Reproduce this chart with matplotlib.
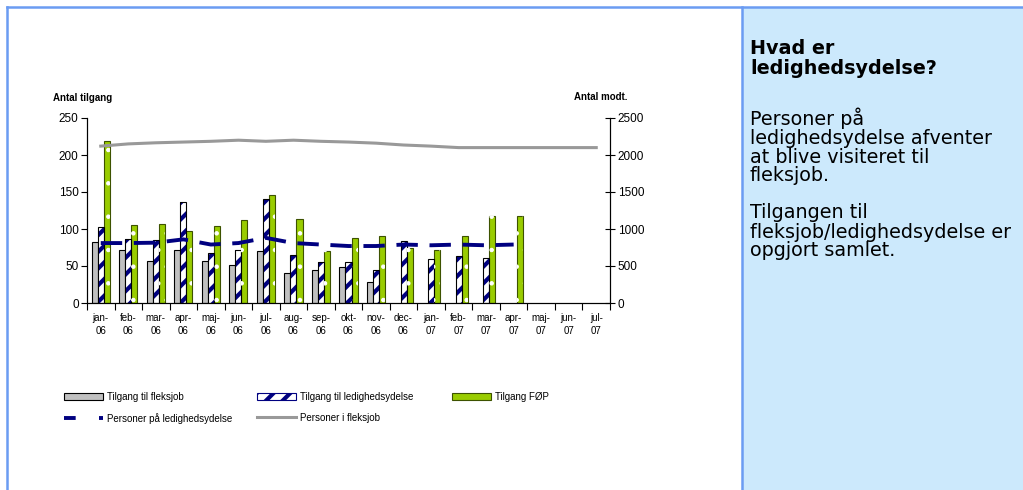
import numpy as np
import matplotlib.pyplot as plt
from matplotlib.patches import Patch, Rectangle
from matplotlib.lines import Line2D

# ==================== data ====================
months = ["jan-\n06", "feb-\n06", "mar-\n06", "apr-\n06", "maj-\n06", "jun-\n06",
          "jul-\n06", "aug-\n06", "sep-\n06", "okt-\n06", "nov-\n06", "dec-\n06",
          "jan-\n07", "feb-\n07", "mar-\n07", "apr-\n07", "maj-\n07", "jun-\n07", "jul-\n07"]

tilgang_fleksjob = [82, 72, 57, 72, 57, 51, 70, 41, 45, 49, 29,
                    None, None, None, None, None, None, None, None]
tilgang_ledighed = [103, 86, 85, 137, 68, 72, 140, 65, 55, 55, 45,
                    84, 59, 63, 61, None, None, None, None]
tilgang_fop = [219, 105, 107, 97, 104, 112, 146, 114, 70, 88, 90,
               75, 72, 90, 117, 118, None, None, None]

pers_ledighed = [810, 810, 815, 860, 790, 810, 880, 810, 790, 770, 770,
                 790, 780, 790, 780, 790, None, None, None]
pers_fleksjob = [2120, 2150, 2165, 2175, 2185, 2200, 2185, 2200, 2185, 2175, 2160,
                 2135, 2120, 2100, 2100, 2100, 2100, 2100, 2100]

left_ticks = [0, 50, 100, 150, 200, 250]
right_ticks = [0, 500, 1000, 1500, 2000, 2500]

# ==================== style ====================
chart_font = "Liberation Sans"
navy = "#000080"
grey_bar = "#C0C0C0"
green = "#99CC00"
grey_line = "#999999"
frame_blue = "#6B9CF2"
panel_blue = "#CCE9FC"

plt.rcParams["font.family"] = chart_font
plt.rcParams["hatch.linewidth"] = 3.0

W, H = 1023, 490
fig = plt.figure(figsize=(W / 100, H / 100), dpi=100)

def fx(px):
    return px / W

def fy(py):
    return 1 - py / H

# right info panel and page frame
fig.patches.append(Rectangle((fx(742), 0), 1 - fx(742), fy(7), transform=fig.transFigure,
                             facecolor=panel_blue, edgecolor="none", zorder=0))
fig.lines.append(Line2D([fx(7), 1], [fy(7), fy(7)], transform=fig.transFigure,
                        color=frame_blue, lw=1.8))
fig.lines.append(Line2D([fx(7), fx(7)], [0, fy(7)], transform=fig.transFigure,
                        color=frame_blue, lw=1.8))
fig.lines.append(Line2D([fx(742), fx(742)], [0, fy(7)], transform=fig.transFigure,
                        color=frame_blue, lw=1.8))

# ==================== chart ====================
ax = fig.add_axes([fx(87), fy(303), fx(610) - fx(87), fy(118) - fy(303)])
ax2 = ax.twinx()

x = np.arange(len(months))
w = 0.22

def present(vals, off):
    xs = [xi + off for xi, v in zip(x, vals) if v is not None]
    hs = [v for v in vals if v is not None]
    return xs, hs

xs, hs = present(tilgang_fleksjob, -w)
ax.bar(xs, hs, w, color=grey_bar, edgecolor="black", linewidth=0.8, zorder=2)

xs, hs = present(tilgang_ledighed, 0)
ax.bar(xs, hs, w, color="white", edgecolor=navy, hatch="//", linewidth=0, zorder=2)
ax.bar(xs, hs, w, fill=False, edgecolor="black", linewidth=0.8, zorder=3)

xs, hs = present(tilgang_fop, w)
ax.bar(xs, hs, w, color=green, edgecolor="#3d5200", linewidth=0.8, zorder=2)
with plt.rc_context({"hatch.linewidth": 0.8}):
    ax.bar(xs, hs, w, fill=False, edgecolor="white", hatch=".", linewidth=0, zorder=3)

lx = [xi for xi, v in zip(x, pers_ledighed) if v is not None]
ly = [v for v in pers_ledighed if v is not None]
ax2.plot(lx, ly, color=navy, lw=2.8, dashes=(5.5, 3), zorder=4)
ax2.plot(x, pers_fleksjob, color=grey_line, lw=2.2, zorder=4)

ax.set_xlim(-0.5, len(months) - 0.5)
ax.set_ylim(0, 250)
ax2.set_ylim(0, 2500)
ax.set_yticks(left_ticks)
ax2.set_yticks(right_ticks)
ax.tick_params(axis="y", direction="out", length=4, width=0.8, labelsize=8.5, pad=2)
ax2.tick_params(axis="y", direction="inout", length=7, width=0.8, labelsize=8.5, pad=2)

ax.set_xticks(np.arange(len(months) + 1) - 0.5)
ax.set_xticklabels([])
ax.tick_params(axis="x", which="major", direction="out", length=5, width=0.8)
ax.set_xticks(x, minor=True)
ax.set_xticklabels(months, minor=True, fontsize=7, linespacing=1.35)
ax.tick_params(axis="x", which="minor", length=0, pad=7)

for a in (ax, ax2):
    a.spines["top"].set_visible(False)
    for s in ("left", "right", "bottom"):
        a.spines[s].set_linewidth(0.8)
ax.patch.set_visible(False)
ax2.patch.set_visible(False)

fig.text(fx(53), fy(98), "Antal tilgang", fontsize=7, fontweight="bold", va="center")
fig.text(fx(628), fy(97), "Antal modt.", fontsize=7, fontweight="bold", va="center", ha="right")

# ==================== legend (three columns) ====================
h_grey = Patch(facecolor=grey_bar, edgecolor="black", linewidth=0.8)
h_hatch = Patch(facecolor="white", edgecolor=navy, hatch="//", linewidth=0.8)
h_green = Patch(facecolor=green, edgecolor="#3d5200", linewidth=0.8)
h_dash = Line2D([], [], color=navy, lw=2.8, dashes=(3, 6))
h_line = Line2D([], [], color=grey_line, lw=2.2)

leg_kw = dict(frameon=False, fontsize=7, handlelength=4.0, handleheight=0.6,
              handletextpad=0.4, labelspacing=1.1, borderpad=0, borderaxespad=0,
              loc="upper left")
columns = [
    (64, [h_grey, h_dash], ["Tilgang til fleksjob", "Personer på ledighedsydelse"]),
    (257, [h_hatch, h_line], ["Tilgang til ledighedsydelse", "Personer i fleksjob"]),
    (452, [h_green], ["Tilgang FØP"]),
]
for px, handles, labels in columns:
    fig.legend(handles, labels, bbox_to_anchor=(fx(px), fy(392)), **leg_kw)

# ==================== info panel text ====================
panel_lines = [
    ("Hvad er", 49, True),
    ("ledighedsydelse?", 68, True),
    ("Personer på", 118, False),
    ("ledighedsydelse afventer", 138, False),
    ("at blive visiteret til", 157, False),
    ("fleksjob.", 175, False),
    ("Tilgangen til", 213, False),
    ("fleksjob/ledighedsydelse er", 232, False),
    ("opgjort samlet.", 250, False),
]
for txt, py, bold in panel_lines:
    fig.text(fx(750), fy(py), txt, fontsize=13.8, family="DejaVu Sans",
             fontweight="bold" if bold else "normal", va="center", color="black")

fig.savefig("out.png", dpi=100)
